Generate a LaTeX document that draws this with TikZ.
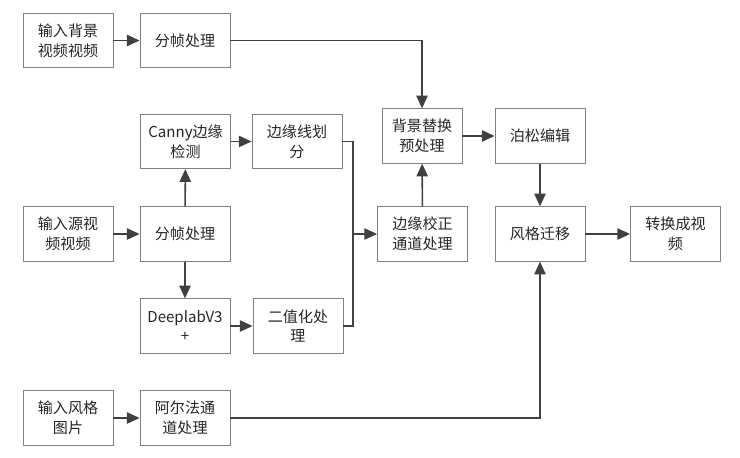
\documentclass[tikz,border=0pt]{standalone}
\usepackage{fontspec}
\setmainfont{Noto Sans CJK SC}
\usetikzlibrary{arrows.meta, positioning}

\begin{document}
\begin{tikzpicture}[
    x=0.025cm, y=-0.025cm,
    box/.style={draw=black!50, line width=0.6pt, minimum width=2.25cm,
                minimum height=1.36cm, align=center, inner sep=1pt,
                text=black!85, font=\fontsize{10.7}{14}\selectfont},
    arr/.style={draw=black!75, line width=1.1pt,
                -{Triangle[length=9pt, width=8pt]}},
    ln/.style={draw=black!75, line width=1.1pt}
  ]
  \useasboundingbox (0,0) rectangle (740,458);

  % input column
  \node[box] (bgin) at (68,40.5) {输入背景\\视频视频};
  \node[box] (srcin) at (68,234) {输入源视\\频视频};
  \node[box] (stylein) at (68,418) {输入风格\\图片};

  % frame splitting and segmentation
  \node[box] (bgsplit) at (185,40.5) {分帧处理};
  \node[box] (canny) at (185.5,141.5) {Canny边缘\\检测};
  \node[box] (srcsplit) at (185,234) {分帧处理};
  \node[box] (deeplab) at (185,326) {DeeplabV3\\+};
  \node[box] (alpha) at (185,418) {阿尔法通\\道处理};
  \node[box] (edgeseg) at (297,141.5) {边缘线划\\分};
  \node[box] (binary) at (298,326) {二值化处\\理};

  % background replacement and style transfer
  \node[box, minimum width=2.0cm] (prep) at (422,136) {背景替换\\预处理};
  \node[box] (poisson) at (540,136) {泊松编辑};
  \node[box] (fix) at (422.5,234) {边缘校正\\通道处理};
  \node[box] (transfer) at (540,234) {风格迁移};
  \node[box] (outvid) at (675.5,234) {转换成视\\频};

  \coordinate (join) at (353,234);

  \draw[arr] (bgin) -- (bgsplit);
  \draw[arr] (bgsplit.east) -| (prep.north);
  \draw[arr] (srcin) -- (srcsplit);
  \draw[arr] (srcsplit) -- (canny);
  \draw[arr] (srcsplit) -- (deeplab);
  \draw[arr] (canny) -- (edgeseg);
  \draw[arr] (deeplab) -- (binary);
  \draw[ln] (edgeseg.east) -| (join);
  \draw[ln] (binary.east) -| (join);
  \draw[arr] (join) -- (fix.west);
  \draw[arr] (fix) -- (prep);
  \draw[arr] (prep) -- (poisson);
  \draw[arr] (poisson) -- (transfer);
  \draw[arr] (transfer) -- (outvid);
  \draw[arr] (stylein) -- (alpha);
  \draw[arr] (alpha.east) -| (transfer.south);
\end{tikzpicture}
\end{document}
